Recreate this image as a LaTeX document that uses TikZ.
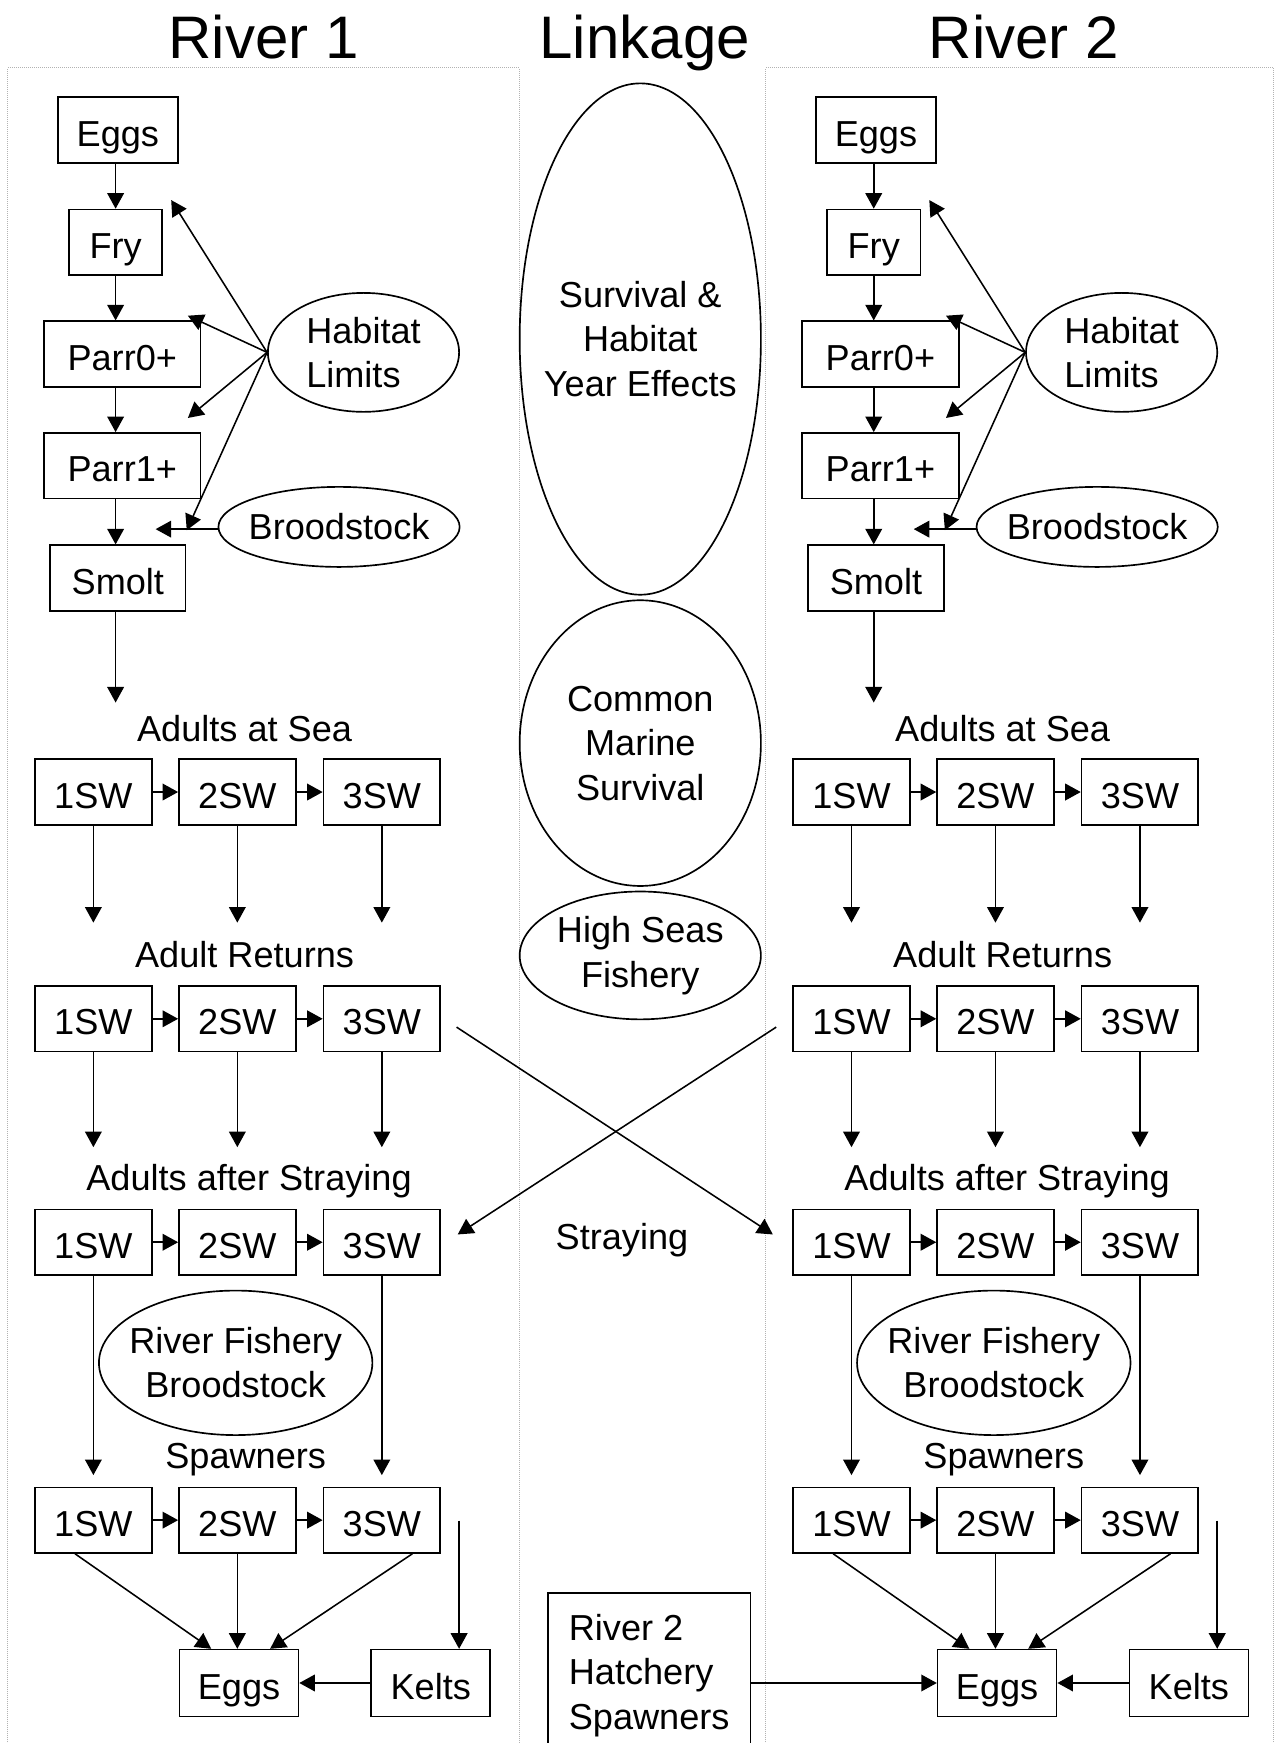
\documentclass[tikz,border=0pt]{standalone}
\usepackage{fontspec}
\setmainfont{Liberation Sans}
\usetikzlibrary{shapes.geometric,arrows.meta}

\begin{document}
\begin{tikzpicture}[x=1pt, y=-1pt,
    font=\fontsize{32.5}{40}\selectfont,
    box/.style={draw, line width=1.5pt, inner sep=0pt, minimum height=59pt, text height=29pt, text depth=0pt},
    oval/.style={draw, ellipse, line width=1.5pt, inner xsep=-20pt, inner ysep=0pt, align=center},
    lbl/.style={anchor=base, inner sep=0pt},
    heading/.style={anchor=base, inner sep=0pt, font=\fontsize{54}{60}\selectfont},
    arr/.style={line width=1.4pt, -{Triangle[length=14pt, width=15pt]}},
    panel/.style={densely dotted, line width=0.8pt, gray!60}]
	\useasboundingbox (0,0) rectangle (1148,1568);

	% headings and panels
	\node[heading] (r1head) at (237,52.6) {River 1};
	\node[heading] (linkhead) at (580,52.6) {Linkage};
	\node[heading] (r2head) at (921,52.6) {River 2};
	\draw[panel] (7,1580) -- (7,61) -- (467,61) -- (467,1580);
	\draw[panel] (689,1580) -- (689,61) -- (1146,61) -- (1146,1580);

	% the two rivers
	\foreach \dx/\rv in {0/a, 682/b} {
		\node[box, minimum width=108pt] (\rv-eggs) at (\dx+106,117) {Eggs};
		\node[box, minimum width=84pt] (\rv-fry) at (\dx+104,218) {Fry};
		\node[box, minimum width=141pt] (\rv-parr0) at (\dx+110,318.5) {Parr0+};
		\node[box, minimum width=141pt] (\rv-parr1) at (\dx+110,419) {Parr1+};
		\node[box, minimum width=122pt] (\rv-smolt) at (\dx+106,520) {Smolt};
		\coordinate (\rv-smoltend) at (\dx+104,632);

		\draw[arr] (\rv-eggs.south -| \rv-fry) -- (\rv-fry.north);
		\draw[arr] (\rv-fry) -- (\rv-parr0.north -| \rv-fry);
		\draw[arr] (\rv-parr0.south -| \rv-fry) -- (\rv-parr1.north -| \rv-fry);
		\draw[arr] (\rv-parr1.south -| \rv-fry) -- (\rv-smolt.north -| \rv-fry);
		\draw[arr] (\rv-smolt.south -| \rv-fry) -- (\rv-smoltend);

		\node[oval, align=left, minimum width=172pt, minimum height=107pt] (\rv-hab) at (\dx+327,317) {Habitat\\Limits};
		\node[oval, minimum width=217pt, minimum height=72pt] (\rv-brood) at (\dx+305,474) {Broodstock};
		\coordinate (\rv-hab1) at (\dx+154,180);
		\coordinate (\rv-hab2) at (\dx+169,284);
		\coordinate (\rv-hab3) at (\dx+169,376);
		\coordinate (\rv-hab4) at (\dx+168,477);
		\coordinate (\rv-broodend) at (\dx+140,476);
		\draw[arr] (\rv-hab.west) -- (\rv-hab1);
		\draw[arr] (\rv-hab.west) -- (\rv-hab2);
		\draw[arr] (\rv-hab.west) -- (\rv-hab3);
		\draw[arr] (\rv-hab.west) -- (\rv-hab4);
		\draw[arr] (\rv-brood.west |- \rv-broodend) -- (\rv-broodend);

		% sea winters
		\node[lbl] (\rv-sea) at (\dx+220,667) {Adults at Sea};
		\node[lbl] (\rv-ret) at (\dx+220,870) {Adult Returns};
		\node[lbl] (\rv-aft) at (\dx+224,1071) {Adults after Straying};
		\node[lbl] (\rv-spawn) at (\dx+221,1321) {Spawners};
		\foreach \row/\yy in {1/712.5, 2/916.5, 3/1117.5, 4/1367.5} {
			\node[box, minimum width=105pt] (\rv-\row1) at (\dx+84,\yy) {1SW};
			\node[box, minimum width=105pt] (\rv-\row2) at (\dx+213.5,\yy) {2SW};
			\node[box, minimum width=105pt] (\rv-\row3) at (\dx+343.5,\yy) {3SW};
			\draw[arr] (\rv-\row1) -- (\rv-\row2);
			\draw[arr] (\rv-\row2) -- (\rv-\row3);
		}
		\foreach \c/\xx in {1/84, 2/213.5, 3/343.5} {
			\coordinate (\rv-down\c) at (\dx+\xx,830);
			\coordinate (\rv-stray\c) at (\dx+\xx,1032);
			\draw[arr] (\rv-1\c) -- (\rv-down\c);
			\draw[arr] (\rv-2\c) -- (\rv-stray\c);
		}
		\node[oval, minimum width=246pt, minimum height=130pt] (\rv-fish) at (\dx+212,1226) {River Fishery\\Broodstock};
		\coordinate (\rv-spawn1) at (\dx+84,1327);
		\coordinate (\rv-spawn3) at (\dx+343.5,1327);
		\draw[arr] (\rv-31) -- (\rv-spawn1);
		\draw[arr] (\rv-33) -- (\rv-spawn3);

		% next generation
		\node[box, minimum width=107pt, minimum height=60pt] (\rv-neweggs) at (\dx+215,1514) {Eggs};
		\node[box, minimum width=107pt, minimum height=60pt] (\rv-kelts) at (\dx+387.5,1514) {Kelts};
		\coordinate (\rv-keltsin) at (\dx+413,1368);
		\draw[arr] ([xshift=-16.5pt]\rv-41.south) -- ([xshift=-25pt]\rv-neweggs.north);
		\draw[arr] (\rv-42.south) -- (\rv-42.south |- \rv-neweggs.north);
		\draw[arr] ([xshift=27.5pt]\rv-43.south) -- ([xshift=28pt]\rv-neweggs.north);
		\draw[arr] (\rv-keltsin) -- (\rv-keltsin |- \rv-kelts.north);
		\draw[arr] (\rv-kelts) -- (\rv-neweggs);
	}

	% linkage
	\node[oval, minimum width=217pt, minimum height=460pt] (yeareff) at (576,305) {Survival \&\\Habitat\\Year Effects};
	\node[oval, minimum width=217pt, minimum height=257pt] (marine) at (576,668.5) {Common\\Marine\\Survival};
	\node[oval, minimum width=217pt, minimum height=115pt] (highseas) at (576,859.5) {High Seas\\Fishery};
	\node[lbl] (straying) at (559.5,1124) {Straying};
	\draw[arr] ([shift={(14,7.5)}]a-23.east) -- ([shift={(-17.5,-7)}]b-31.west);
	\draw[arr] ([shift={(-14.5,7.5)}]b-21.west) -- ([shift={(15,-7)}]a-33.east);

	\node[draw, line width=1.5pt, anchor=north west, align=left, inner xsep=19pt, inner ysep=19.5pt, minimum width=182pt] (hatch) at (492,1432) {River 2\\Hatchery\\Spawners};
	\draw[arr] (hatch.east |- b-neweggs.west) -- (b-neweggs.west);
\end{tikzpicture}
\end{document}
